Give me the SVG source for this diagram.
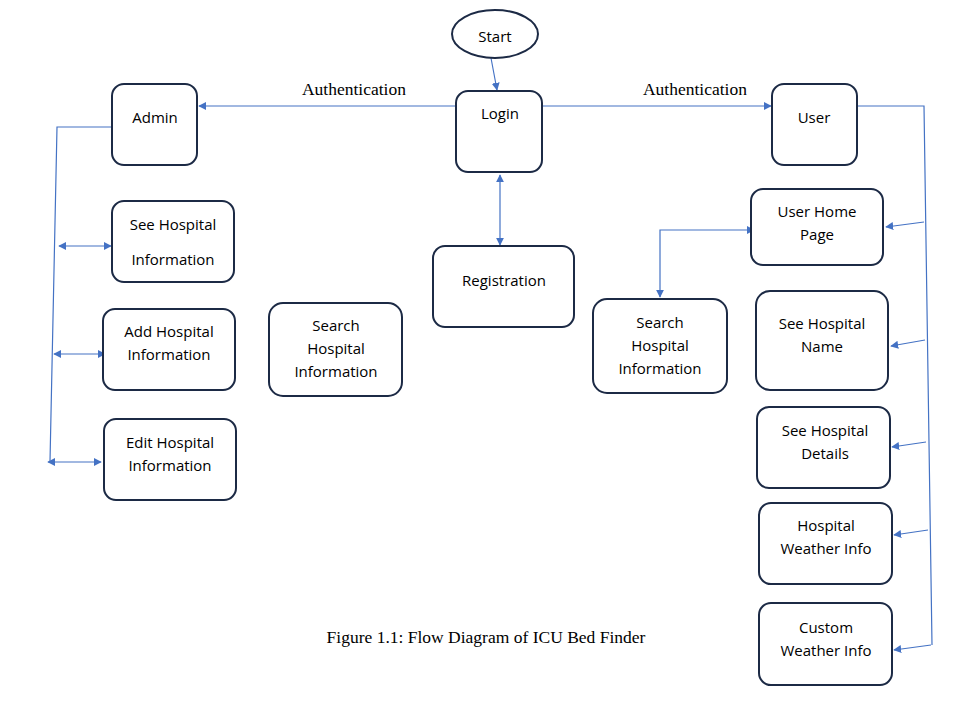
<svg xmlns="http://www.w3.org/2000/svg" width="964" height="706" viewBox="0 0 964 706">
<defs>
<marker id="ah" viewBox="0 0 10 10" refX="9" refY="5" markerWidth="8" markerHeight="8" markerUnits="userSpaceOnUse" orient="auto-start-reverse">
<path d="M0,0 L10,5 L0,10 z" fill="#4472c4"/>
</marker>
<style>
.box{fill:#fff;stroke:#1c2a45;stroke-width:2}
.t{font-family:"Open Sans","Liberation Sans",sans-serif;font-size:15px;fill:#000;text-anchor:middle}
.s{font-family:"Liberation Serif","Times New Roman",serif;font-size:17.5px;fill:#000;text-anchor:middle}
.c{fill:none;stroke:#4472c4;stroke-width:1.2}
</style>
</defs>
<rect width="964" height="706" fill="#fff"/>
<g id="connectors">
<line class="c" x1="491" y1="58" x2="497" y2="90" marker-end="url(#ah)"/>
<line class="c" x1="456" y1="106" x2="199" y2="106" marker-end="url(#ah)"/>
<line class="c" x1="542" y1="106" x2="771" y2="106" marker-end="url(#ah)"/>
<line class="c" x1="500" y1="175" x2="500" y2="245" marker-start="url(#ah)" marker-end="url(#ah)"/>
<polyline class="c" points="112,127 57,127 50,462"/>
<line class="c" x1="59" y1="246" x2="111" y2="246" marker-start="url(#ah)" marker-end="url(#ah)"/>
<line class="c" x1="54" y1="354" x2="105" y2="354" marker-start="url(#ah)" marker-end="url(#ah)"/>
<line class="c" x1="48" y1="462" x2="101" y2="462" marker-start="url(#ah)" marker-end="url(#ah)"/>
<polyline class="c" points="857,106 924,106 932,645"/>
<line class="c" x1="924" y1="222" x2="886" y2="227" marker-end="url(#ah)"/>
<line class="c" x1="925" y1="340" x2="891" y2="346" marker-end="url(#ah)"/>
<line class="c" x1="926" y1="442" x2="892" y2="447" marker-end="url(#ah)"/>
<line class="c" x1="928" y1="530" x2="894" y2="535" marker-end="url(#ah)"/>
<line class="c" x1="931" y1="645" x2="894" y2="650" marker-end="url(#ah)"/>
<polyline class="c" points="660,297 660,230 754,230" marker-start="url(#ah)" marker-end="url(#ah)"/>
</g>
<g id="start"><ellipse class="box" cx="495" cy="34" rx="43" ry="24"/><text class="t" x="495" y="42">Start</text></g>
<g id="login"><rect class="box" x="456" y="91" width="86" height="81" rx="12"/><text class="t" x="500" y="119">Login</text></g>
<g id="admin"><rect class="box" x="112" y="84" width="85" height="81" rx="12"/><text class="t" x="155" y="123">Admin</text></g>
<g id="user"><rect class="box" x="772" y="84" width="85" height="81" rx="12"/><text class="t" x="814" y="123">User</text></g>
<g id="registration"><rect class="box" x="433" y="246" width="141" height="81" rx="12"/><text class="t" x="504" y="286">Registration</text></g>
<g id="see-hospital-info"><rect class="box" x="112" y="201" width="122" height="81" rx="12"/><text class="t" x="173" y="230">See Hospital</text><text class="t" x="173" y="265">Information</text></g>
<g id="add-hospital-info"><rect class="box" x="103" y="309" width="132" height="81" rx="12"/><text class="t" x="169" y="337">Add Hospital</text><text class="t" x="169" y="360">Information</text></g>
<g id="edit-hospital-info"><rect class="box" x="104" y="419" width="132" height="81" rx="12"/><text class="t" x="170" y="448">Edit Hospital</text><text class="t" x="170" y="471">Information</text></g>
<g id="search-mid"><rect class="box" x="269" y="303" width="133" height="93" rx="14"/><text class="t" x="336" y="331">Search</text><text class="t" x="336" y="354">Hospital</text><text class="t" x="336" y="377">Information</text></g>
<g id="search-right"><rect class="box" x="593" y="299" width="134" height="94" rx="14"/><text class="t" x="660" y="328">Search</text><text class="t" x="660" y="351">Hospital</text><text class="t" x="660" y="374">Information</text></g>
<g id="user-home"><rect class="box" x="751" y="189" width="132" height="76" rx="12"/><text class="t" x="817" y="217">User Home</text><text class="t" x="817" y="240">Page</text></g>
<g id="see-hospital-name"><rect class="box" x="756" y="291" width="132" height="99" rx="14"/><text class="t" x="822" y="329">See Hospital</text><text class="t" x="822" y="352">Name</text></g>
<g id="see-hospital-details"><rect class="box" x="757" y="407" width="133" height="81" rx="12"/><text class="t" x="825" y="436">See Hospital</text><text class="t" x="825" y="459">Details</text></g>
<g id="hospital-weather"><rect class="box" x="759" y="503" width="133" height="81" rx="12"/><text class="t" x="826" y="531">Hospital</text><text class="t" x="826" y="554">Weather Info</text></g>
<g id="custom-weather"><rect class="box" x="759" y="603" width="133" height="82" rx="12"/><text class="t" x="826" y="633">Custom</text><text class="t" x="826" y="656">Weather Info</text></g>
<text class="s" x="354" y="95">Authentication</text>
<text class="s" x="695" y="95">Authentication</text>
<text class="s" x="486" y="643">Figure 1.1: Flow Diagram of ICU Bed Finder</text>
</svg>
